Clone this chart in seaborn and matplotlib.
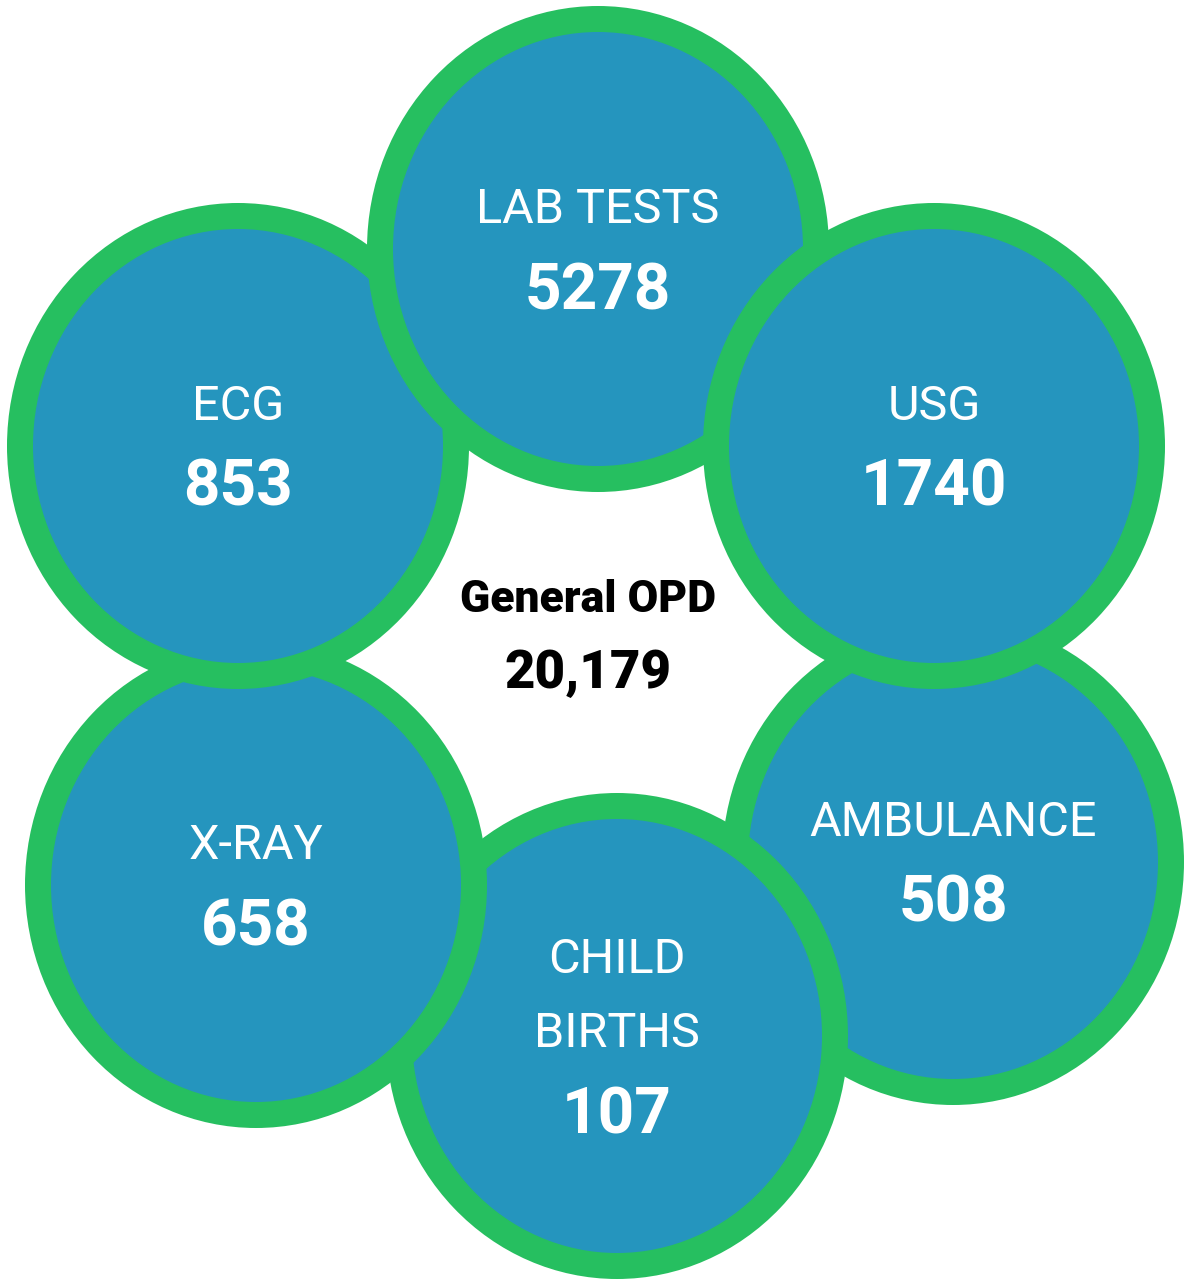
import seaborn as sns
import matplotlib.pyplot as plt
from matplotlib.patches import Ellipse

# service counts around the centre
services = ['AMBULANCE', 'CHILD\nBIRTHS', 'X-RAY', 'ECG', 'LAB TESTS', 'USG']
counts = ['508', '107', '658', '853', '5278', '1740']

centre_label = 'General OPD'
centre_value = '20,179'

# bubble centres in pixel units (drawing order = bottom to top)
bubble_x = [953, 617, 256, 238, 598, 934]
bubble_y = [862, 1036, 885, 446, 249, 446]

sns.set_style('white')
plt.rcParams['font.family'] = ['Roboto', 'DejaVu Sans']

blue = '#2595be'
green = '#26bf60'

fig = plt.figure(figsize=(11.84, 12.8), dpi=100)
ax = fig.add_axes([0, 0, 1, 1])
ax.set_xlim(0, 1184)
ax.set_ylim(1280, 0)
ax.axis('off')

rx, ry, ring = 231, 243, 26
line_gap = 74

for name, val, cx, cy in zip(services, counts, bubble_x, bubble_y):
    ax.add_patch(Ellipse((cx, cy), 2 * rx, 2 * ry, facecolor=green, edgecolor='none'))
    ax.add_patch(Ellipse((cx, cy), 2 * (rx - ring), 2 * (ry - ring),
                         facecolor=blue, edgecolor='none'))
    lines = name.split('\n')
    n = len(lines)
    block = 38 + (n - 1) * line_gap + 86
    top = cy - block / 2 - 2
    for i, ln in enumerate(lines):
        ax.text(cx, top + 38 + i * line_gap, ln, ha='center', va='baseline',
                color='white', fontsize=35, fontweight='normal')
    ax.text(cx, top + 38 + (n - 1) * line_gap + 86, val, ha='center', va='baseline',
            color='white', fontsize=46, fontweight='bold')

ax.text(588, 612, centre_label, ha='center', va='baseline', color='black',
        fontsize=32, fontweight='heavy')
ax.text(588, 688, centre_value, ha='center', va='baseline', color='black',
        fontsize=38, fontweight='heavy')

fig.savefig('out.png', dpi=100, facecolor='white')
